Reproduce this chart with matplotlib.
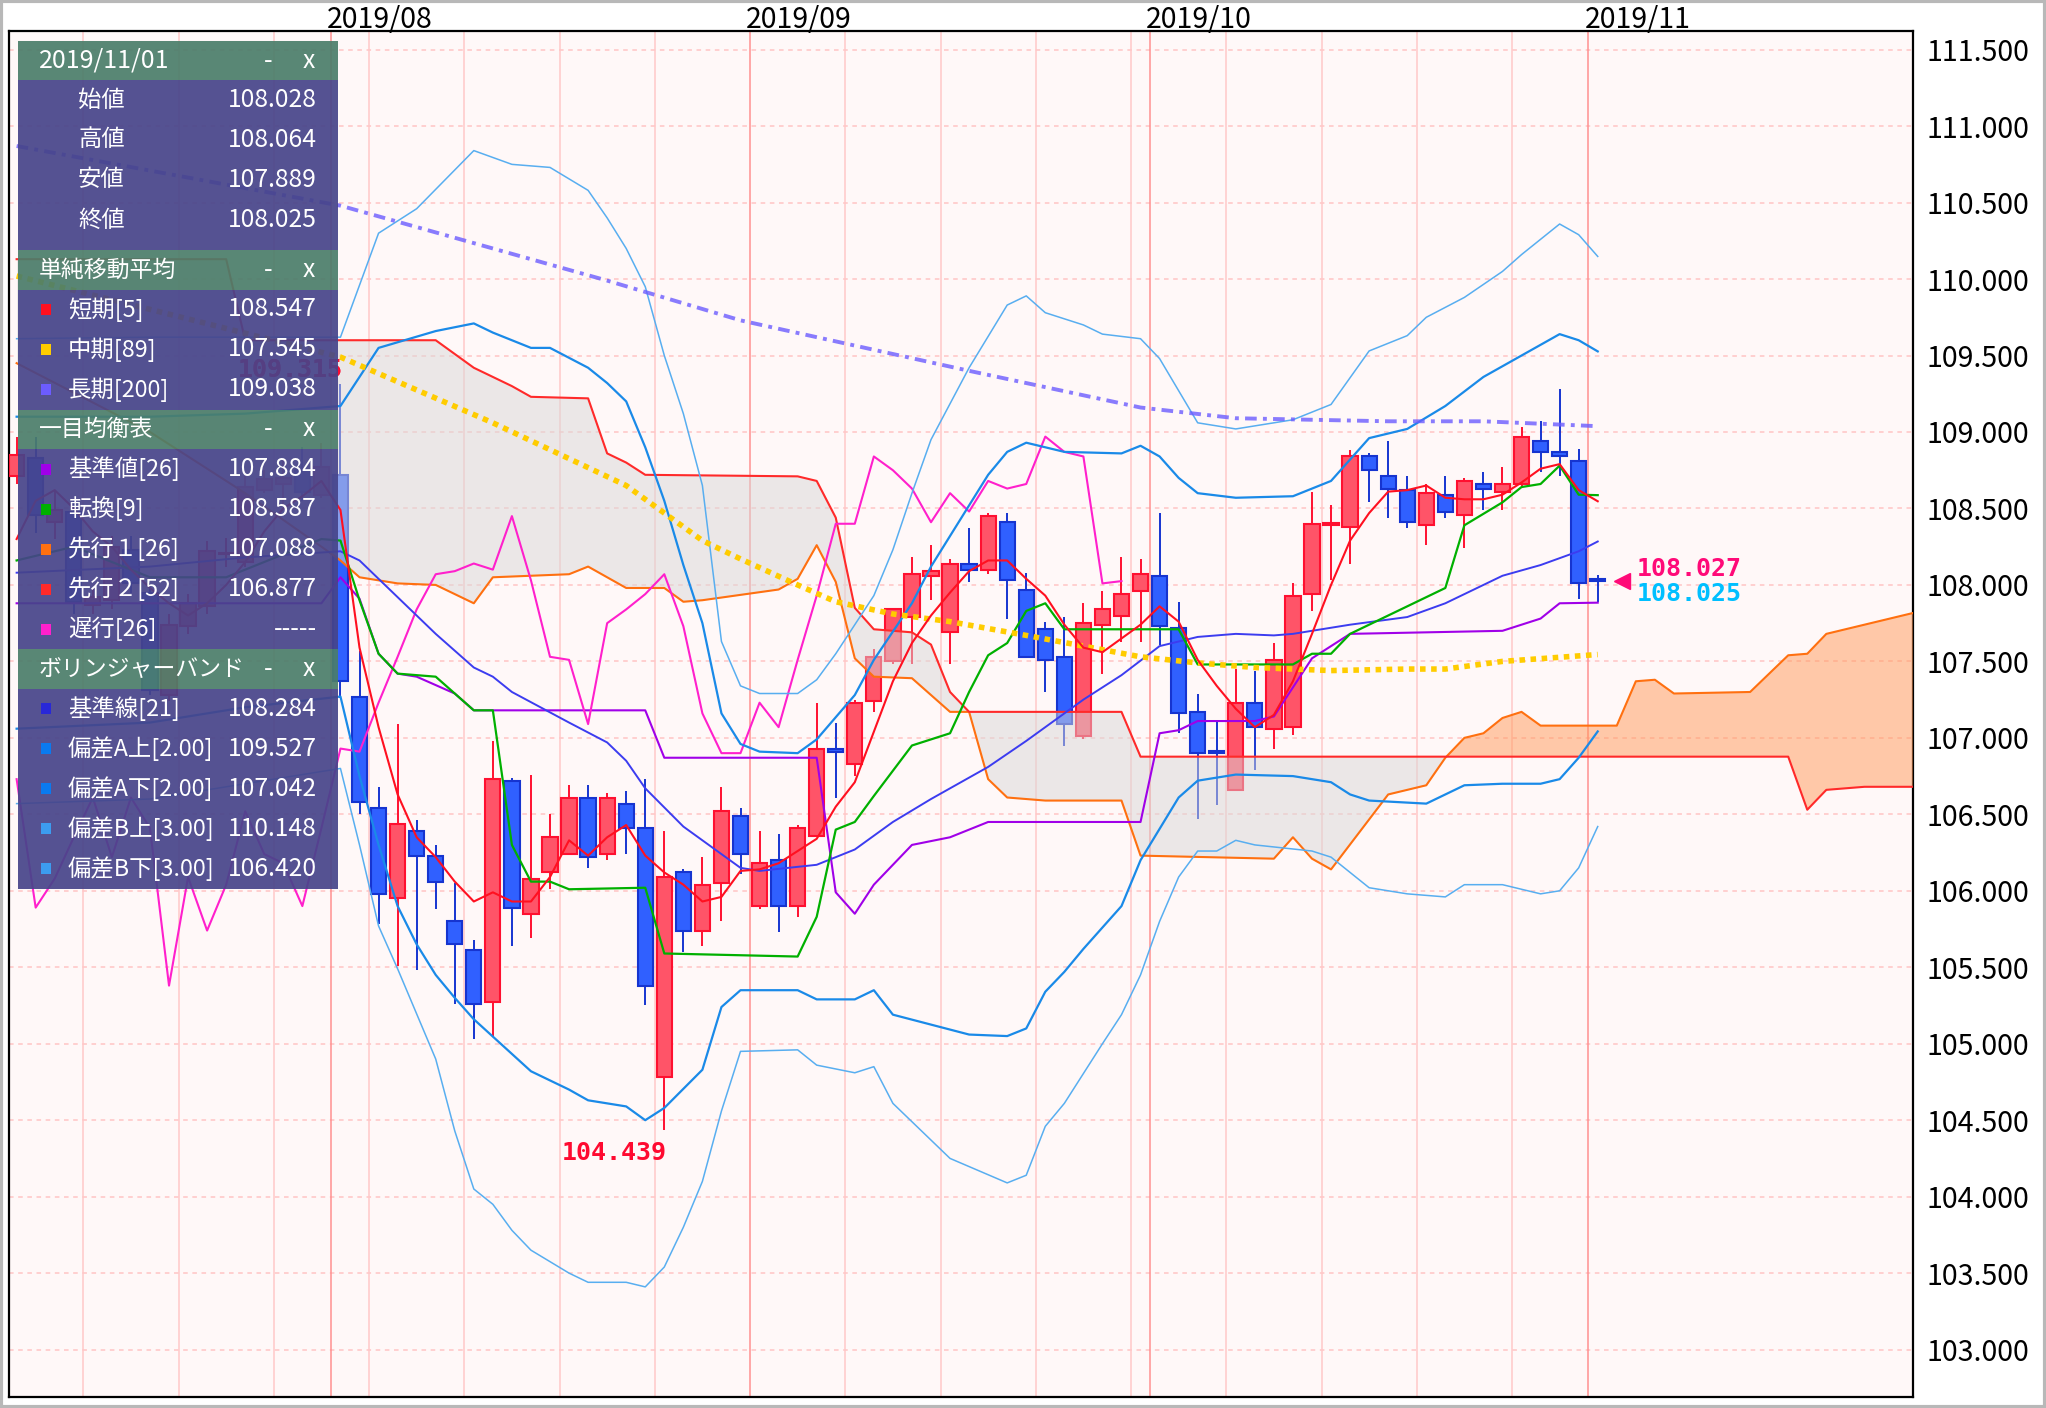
import numpy as np
import pandas as pd
import matplotlib
matplotlib.use("Agg")
import matplotlib.pyplot as plt
from matplotlib.patches import Rectangle

plt.rcParams['font.family'] = ['Noto Sans CJK JP', 'DejaVu Sans']

# ---- data (index 0 = 2019/08/01, one step per business day) ----
dates = pd.bdate_range('2019-07-09', '2019-11-01')
idx = np.arange(len(dates)) - 17

opens = [108.71, 108.83, 108.41, 108.48, 107.87, 107.90, 108.23, 107.95, 107.28, 107.73, 107.86, 108.20, 108.15, 108.62, 108.66, 108.75, 108.59,
         108.72, 107.27, 106.54, 105.95, 106.39, 106.23, 105.80, 105.61, 105.27, 106.72, 105.85, 106.12, 106.24, 106.61, 106.24, 106.57, 106.41,
         104.78, 106.12, 105.74, 106.05, 106.49, 105.90, 106.20, 105.90, 106.36, 106.93, 106.83, 107.24, 107.50, 107.79, 108.06, 107.69, 108.14,
         108.10, 108.41, 107.97, 107.71, 107.53, 107.01, 107.74, 107.80, 107.96, 108.06, 107.72, 107.17, 106.91, 106.66, 107.23, 107.06, 107.07,
         107.94, 108.39, 108.38, 108.84, 108.71, 108.62, 108.39, 108.59, 108.46, 108.66, 108.61, 108.66, 108.94, 108.87, 108.81, 108.028]
highs = [108.97, 108.97, 108.62, 108.56, 107.98, 108.32, 108.32, 108.00, 107.81, 107.94, 108.29, 108.31, 108.71, 108.75, 108.82, 108.90, 108.93,
         109.315, 107.57, 106.68, 107.09, 106.46, 106.30, 106.05, 105.68, 106.98, 106.74, 106.76, 106.50, 106.69, 106.69, 106.64, 106.65, 106.73,
         106.39, 106.14, 106.22, 106.68, 106.54, 106.39, 106.37, 106.43, 107.23, 107.10, 107.25, 107.58, 107.85, 108.18, 108.26, 108.17, 108.37,
         108.47, 108.47, 108.08, 107.76, 107.79, 107.88, 107.96, 108.18, 108.17, 108.47, 107.89, 107.29, 107.12, 107.45, 107.44, 107.62, 108.01,
         108.61, 108.52, 108.88, 108.86, 108.94, 108.71, 108.66, 108.71, 108.70, 108.74, 108.77, 109.03, 109.07, 109.284, 108.89, 108.064]
lows = [108.66, 108.34, 108.30, 107.81, 107.81, 107.84, 107.95, 107.28, 107.24, 107.68, 107.81, 108.12, 108.12, 108.60, 108.52, 108.55, 108.57,
        107.26, 106.50, 105.78, 105.51, 105.48, 105.88, 105.26, 105.03, 105.05, 105.64, 105.69, 106.01, 106.24, 106.15, 106.20, 106.24, 105.25,
        104.439, 105.60, 105.64, 105.80, 106.11, 105.88, 105.73, 105.83, 106.36, 106.61, 106.75, 107.17, 107.48, 107.48, 107.90, 107.48, 108.02,
        108.07, 107.78, 107.53, 107.30, 106.95, 106.99, 107.42, 107.63, 107.63, 107.61, 107.03, 106.47, 106.56, 106.66, 106.79, 106.93, 107.02,
        107.83, 108.03, 108.14, 108.54, 108.44, 108.37, 108.26, 108.44, 108.24, 108.49, 108.49, 108.64, 108.74, 108.71, 107.91, 107.889]
closes = [108.85, 108.46, 108.49, 107.89, 107.92, 108.25, 108.01, 107.31, 107.74, 107.88, 108.22, 108.21, 108.64, 108.69, 108.70, 108.61, 108.77,
          107.37, 106.58, 105.98, 106.44, 106.23, 106.06, 105.65, 105.26, 106.73, 105.89, 106.08, 106.35, 106.61, 106.22, 106.61, 106.41, 105.38,
          106.09, 105.74, 106.04, 106.52, 106.24, 106.18, 105.90, 106.41, 106.93, 106.91, 107.23, 107.53, 107.84, 108.07, 108.09, 108.14, 108.10,
          108.45, 108.03, 107.53, 107.51, 107.09, 107.75, 107.84, 107.94, 108.07, 107.73, 107.16, 106.90, 106.90, 107.23, 107.07, 107.51, 107.93,
          108.40, 108.40, 108.84, 108.75, 108.63, 108.41, 108.60, 108.48, 108.68, 108.63, 108.66, 108.97, 108.87, 108.84, 108.01, 108.025]

sma5 = [108.30, 108.55, 108.62, 108.50, 108.35, 108.25, 108.10, 107.98, 107.88, 107.80, 107.88, 108.00, 108.15, 108.35, 108.50, 108.58, 108.68,
        108.49, 107.59, 107.07, 106.63, 106.35, 106.22, 106.06, 105.93, 105.99, 105.93, 105.93, 106.09, 106.33, 106.23, 106.35, 106.43, 106.23,
        106.12, 106.04, 105.93, 105.96, 106.13, 106.14, 106.18, 106.26, 106.34, 106.55, 106.71, 107.04, 107.37, 107.62, 107.80, 107.95, 108.09,
        108.16, 108.16, 108.04, 107.93, 107.74, 107.59, 107.56, 107.65, 107.74, 107.86, 107.76, 107.51, 107.34, 107.19, 107.07, 107.15, 107.37,
        107.68, 108.00, 108.29, 108.47, 108.61, 108.62, 108.65, 108.57, 108.56, 108.56, 108.59, 108.67, 108.76, 108.79, 108.62, 108.547]

sma89_x = [-17, 0, 8, 15, 19, 21, 24, 26, 29, 32, 36, 39, 42, 45, 48, 52, 56, 58, 61, 66]
sma89_y = [110.02, 109.49, 109.06, 108.65, 108.29, 108.17, 108.00, 107.89, 107.81, 107.76, 107.67, 107.60, 107.53, 107.49, 107.46, 107.44,
           107.45, 107.45, 107.50, 107.545]
sma200_x = [-17, 0, 14, 21, 33, 42, 47, 55, 60, 66]
sma200_y = [110.87, 110.48, 109.99, 109.73, 109.40, 109.16, 109.09, 109.07, 109.07, 109.038]

bb_mid_x = [-17, -10, -5, 0, 1, 3, 5, 7, 8, 9, 12, 14, 15, 16, 18, 21, 22, 25, 27, 29, 31, 34, 36, 39, 41, 43, 45, 47, 49, 50, 53, 56, 58, 61, 63, 65, 66]
bb_mid_y = [108.08, 108.12, 108.18, 108.22, 108.16, 107.92, 107.68, 107.46, 107.40, 107.30, 107.10, 106.97, 106.85, 106.67, 106.42, 106.15,
            106.13, 106.17, 106.27, 106.45, 106.60, 106.81, 106.98, 107.25, 107.41, 107.60, 107.66, 107.68, 107.67, 107.68, 107.74, 107.79,
            107.88, 108.06, 108.13, 108.22, 108.284]
bb_up2_x = [-17, -10, -5, 0, 2, 5, 7, 8, 10, 11, 13, 14, 15, 16, 17, 18, 19, 20, 21, 22, 24, 25, 27, 28, 30, 31, 32, 34, 35, 36, 38, 41, 42,
            43, 44, 45, 47, 50, 52, 54, 56, 58, 60, 62, 64, 65, 66]
bb_up2_y = [109.10, 109.10, 109.12, 109.17, 109.55, 109.66, 109.71, 109.65, 109.55, 109.55, 109.42, 109.32, 109.20, 108.90, 108.55, 108.13,
            107.75, 107.16, 106.96, 106.91, 106.90, 106.99, 107.28, 107.51, 107.88, 108.12, 108.32, 108.72, 108.87, 108.93, 108.87, 108.86,
            108.91, 108.84, 108.70, 108.60, 108.57, 108.58, 108.68, 108.96, 109.02, 109.17, 109.36, 109.50, 109.64, 109.60, 109.527]
bb_up3_x = [-17, -10, -5, 0, 2, 4, 7, 9, 11, 13, 14, 15, 16, 17, 18, 19, 20, 21, 22, 24, 25, 26, 28, 29, 30, 31, 33, 35, 36, 37, 39, 40, 42,
            43, 45, 47, 50, 52, 54, 56, 57, 59, 61, 62, 64, 65, 66]
bb_up3_y = [109.61, 109.62, 109.62, 109.62, 110.30, 110.46, 110.84, 110.75, 110.73, 110.58, 110.40, 110.20, 109.95, 109.50, 109.12, 108.65,
            107.63, 107.34, 107.29, 107.29, 107.38, 107.55, 107.93, 108.23, 108.60, 108.95, 109.42, 109.83, 109.89, 109.78, 109.70, 109.64,
            109.61, 109.48, 109.06, 109.02, 109.08, 109.18, 109.53, 109.63, 109.75, 109.88, 110.05, 110.16, 110.36, 110.29, 110.148]
bb_lo2_x = [-17, -10, -5, 0, 1, 2, 3, 4, 5, 6, 7, 10, 12, 13, 15, 16, 17, 19, 20, 21, 24, 25, 27, 28, 29, 33, 35, 36, 37, 38, 39, 41, 42, 44,
            45, 47, 50, 52, 53, 54, 57, 59, 61, 63, 64, 65, 66]
bb_lo2_y = [107.06, 107.10, 107.20, 107.27, 106.75, 106.30, 105.90, 105.65, 105.45, 105.30, 105.16, 104.82, 104.70, 104.63, 104.59, 104.50,
            104.58, 104.83, 105.24, 105.35, 105.35, 105.29, 105.29, 105.35, 105.19, 105.06, 105.05, 105.10, 105.34, 105.47, 105.62, 105.90,
            106.20, 106.61, 106.72, 106.76, 106.75, 106.71, 106.63, 106.59, 106.57, 106.69, 106.70, 106.70, 106.73, 106.87, 107.042]
bb_lo3_x = [-17, -10, -5, 0, 1, 2, 3, 5, 6, 7, 8, 9, 10, 12, 13, 15, 16, 17, 18, 19, 20, 21, 24, 25, 27, 28, 29, 32, 35, 36, 37, 38, 40, 41,
            42, 43, 44, 45, 46, 47, 48, 51, 52, 54, 56, 58, 59, 61, 63, 64, 65, 66]
bb_lo3_y = [106.57, 106.60, 106.70, 106.80, 106.30, 105.77, 105.49, 104.90, 104.43, 104.05, 103.95, 103.78, 103.65, 103.50, 103.44, 103.44,
            103.41, 103.54, 103.80, 104.10, 104.56, 104.95, 104.96, 104.86, 104.81, 104.85, 104.61, 104.25, 104.09, 104.14, 104.46, 104.61,
            105.00, 105.19, 105.45, 105.80, 106.09, 106.26, 106.26, 106.33, 106.30, 106.26, 106.22, 106.02, 105.98, 105.96, 106.04, 106.04,
            105.98, 106.00, 106.15, 106.42]

kijun_x = [-17, -1, 0, 1, 2, 3, 4, 6, 7, 16, 17, 25, 26, 27, 28, 30, 32, 34, 42, 43, 44, 45, 48, 49, 51, 53, 61, 63, 64, 66]
kijun_y = [107.88, 107.88, 108.05, 107.91, 107.55, 107.42, 107.40, 107.29, 107.18, 107.18, 106.87, 106.87, 105.99, 105.85, 106.04, 106.30,
           106.35, 106.45, 106.45, 107.03, 107.05, 107.11, 107.11, 107.14, 107.52, 107.68, 107.70, 107.78, 107.88, 107.884]
tenkan_x = [-17, -14, -10, -6, -3, -1, 0, 1, 2, 3, 5, 7, 8, 9, 10, 11, 12, 16, 17, 24, 25, 26, 27, 28, 30, 32, 33, 34, 35, 36, 37, 38, 44,
            45, 50, 51, 52, 53, 58, 59, 61, 62, 63, 64, 65, 66]
tenkan_y = [108.16, 108.25, 108.05, 108.05, 108.20, 108.30, 108.29, 107.90, 107.55, 107.42, 107.40, 107.18, 107.18, 106.30, 106.06, 106.06,
            106.01, 106.02, 105.59, 105.57, 105.83, 106.40, 106.45, 106.62, 106.95, 107.03, 107.30, 107.54, 107.62, 107.83, 107.88, 107.71,
            107.71, 107.48, 107.48, 107.55, 107.55, 107.68, 107.98, 108.39, 108.54, 108.64, 108.66, 108.78, 108.59, 108.587]
span_a_x = [-17, -10, -5, -1, 0, 1, 3, 5, 7, 8, 10, 12, 13, 15, 17, 18, 19, 23, 24, 25, 26, 27, 28, 30, 32, 33, 34, 35, 37, 41, 42, 49, 50,
            51, 52, 55, 57, 58, 59, 60, 61, 62, 63, 67, 68, 69, 70, 74, 76, 77, 78, 80, 83]
span_a_y = [109.45, 109.00, 108.60, 108.25, 108.16, 108.05, 108.01, 108.00, 107.88, 108.05, 108.06, 108.07, 108.12, 107.98, 107.98, 107.89,
            107.90, 107.97, 108.04, 108.26, 108.02, 107.52, 107.40, 107.39, 107.17, 107.17, 106.73, 106.61, 106.59, 106.59, 106.23, 106.21,
            106.35, 106.21, 106.14, 106.63, 106.69, 106.87, 107.00, 107.03, 107.13, 107.17, 107.08, 107.08, 107.37, 107.38, 107.29, 107.30,
            107.54, 107.55, 107.68, 107.74, 107.83]
span_b_x = [-17, -6, -5, 5, 7, 9, 10, 13, 14, 15, 16, 24, 25, 26, 27, 28, 30, 31, 32, 33, 41, 42, 76, 77, 78, 80, 83]
span_b_y = [110.13, 110.13, 109.60, 109.60, 109.42, 109.30, 109.23, 109.22, 108.86, 108.80, 108.72, 108.71, 108.68, 108.44, 107.85, 107.71,
            107.69, 107.61, 107.30, 107.17, 107.17, 106.877, 106.877, 106.53, 106.66, 106.68, 106.68]
chikou_shift = 25

# legend panel contents
ohlc_labels = ['始値', '高値', '安値', '終値']
ohlc_values = ['108.028', '108.064', '107.889', '108.025']
sma_labels = ['短期[5]', '中期[89]', '長期[200]']
sma_values = ['108.547', '107.545', '109.038']
ichi_labels = ['基準値[26]', '転換[9]', '先行１[26]', '先行２[52]', '遅行[26]']
ichi_values = ['107.884', '108.587', '107.088', '106.877', '-----']
bb_labels = ['基準線[21]', '偏差A上[2.00]', '偏差A下[2.00]', '偏差B上[3.00]', '偏差B下[3.00]']
bb_values = ['108.284', '109.527', '107.042', '110.148', '106.420']

# ---- colours ----
C_UP, C_UP_EDGE = '#ff5468', '#ff1030'
C_DN, C_DN_EDGE = '#3060ff', '#1634d0'
C_SMA5, C_SMA89, C_SMA200 = '#ff1020', '#ffcc00', '#6c5cff'
C_MID, C_BB2, C_BB3 = '#3c3cf0', '#1a8ae8', '#58aef0'
C_KIJUN, C_TENKAN, C_SPA, C_SPB, C_CHIKOU = '#a000e8', '#00b000', '#ff7010', '#ff2a2a', '#ff20cc'

W, H = 2046, 1408
fig = plt.figure(figsize=(W / 100, H / 100), dpi=100)
ax = fig.add_axes([9 / W, 1 - 1397 / H, (1913 - 9) / W, (1397 - 30.7) / H])
ax.set_facecolor('#fff8f8')
ax.set_xlim(-17.4, 82.55)
ax.set_ylim(102.69, 111.624)

# grid
for v in np.arange(103, 111.51, 0.5):
    ax.axhline(v, color='#ffc4c4', lw=1.1, ls=(0, (3, 3)), zorder=1)
prev = None
for k, d in enumerate(dates):
    i = idx[k]
    if prev is not None and d.month != prev.month:
        ax.axvline(i - 0.5, color='#ff9090', lw=1.1, zorder=1)
        ax.annotate(d.strftime('%Y/%m'), xy=(i - 0.7, 1), xycoords=('data', 'axes fraction'),
                    xytext=(0, 2), textcoords='offset points', ha='left', va='baseline', fontsize=20.5)
    elif d.weekday() == 0:
        ax.axvline(i - 0.5, color='#ffc8c8', lw=1.1, zorder=1)
    prev = d

# candles
o, h, l, c = map(np.array, (opens, highs, lows, closes))
up = c >= o
for mask, fc, ec in ((up, C_UP, C_UP_EDGE), (~up, C_DN, C_DN_EDGE)):
    ax.vlines(idx[mask], l[mask], h[mask], color=ec, lw=1.4, zorder=3)
    body = np.maximum(np.abs(c - o)[mask], 0.012)
    ax.bar(idx[mask], body, bottom=np.minimum(o, c)[mask], width=0.8, color=fc, edgecolor=ec, linewidth=1.5, zorder=4)

# ichimoku cloud
grid = np.arange(-17, 84)
sa = np.interp(grid, span_a_x, span_a_y)
sb = np.interp(grid, span_b_x, span_b_y)
ax.fill_between(grid, sa, sb, where=sb >= sa, interpolate=True, color='#d8d8d8', alpha=0.5, lw=0, zorder=5)
ax.fill_between(grid, sa, sb, where=sa >= sb, interpolate=True, color='#ff9a5a', alpha=0.5, lw=0, zorder=5)

# indicator lines
ax.plot(span_a_x, span_a_y, color=C_SPA, lw=1.5, zorder=6)
ax.plot(span_b_x, span_b_y, color=C_SPB, lw=1.5, zorder=6)
ax.plot(kijun_x, kijun_y, color=C_KIJUN, lw=1.5, zorder=6)
ax.plot(idx[chikou_shift:] - chikou_shift, closes[chikou_shift:], color=C_CHIKOU, lw=1.5, zorder=6)
ax.plot(bb_up3_x, bb_up3_y, color=C_BB3, lw=1.1, zorder=6)
ax.plot(bb_lo3_x, bb_lo3_y, color=C_BB3, lw=1.1, zorder=6)
ax.plot(bb_up2_x, bb_up2_y, color=C_BB2, lw=1.6, zorder=6)
ax.plot(bb_lo2_x, bb_lo2_y, color=C_BB2, lw=1.6, zorder=6)
ax.plot(bb_mid_x, bb_mid_y, color=C_MID, lw=1.4, zorder=6)
ax.plot(tenkan_x, tenkan_y, color=C_TENKAN, lw=1.6, zorder=7)
ax.plot(sma89_x, sma89_y, color=C_SMA89, lw=4, ls=(0, (1, 1)), zorder=7)
ax.plot(sma200_x, sma200_y, color=C_SMA200, lw=2.8, ls=(0, (3, 1.6, 1, 1.6)), alpha=0.8, zorder=7)
ax.plot(idx, sma5, color=C_SMA5, lw=1.5, zorder=8)

# high / low labels
mono = dict(family='DejaVu Sans Mono', fontweight='bold', fontsize=18)
hi_k = int(np.argmax(h[17:])) + 17
ax.annotate(f'{h[hi_k]:.3f}', (idx[hi_k], h[hi_k]), xytext=(2, 1), textcoords='offset points',
            ha='right', va='bottom', color='#ff0a30', zorder=9, **mono)
first_k = int(np.argmax(h[:18]))
ax.annotate(f'{h[first_k]:.3f}', (idx[first_k], h[first_k]), xytext=(2, 1), textcoords='offset points',
            ha='right', va='bottom', color='#ff0a30', zorder=9, **mono)
lo_k = int(np.argmin(l))
ax.annotate(f'{l[lo_k]:.3f}', (idx[lo_k], l[lo_k]), xytext=(2, -8), textcoords='offset points',
            ha='right', va='top', color='#ff0a30', zorder=9, **mono)

# last price tags
ax.plot([67.27], [108.027], marker='<', color='#ff0a78', ms=11, zorder=9)
ax.text(68.05, 108.104, '108.027', color='#ff0a78', ha='left', va='center', zorder=9, **mono)
ax.text(68.05, 107.94, '108.025', color='#00bfff', ha='left', va='center', zorder=9, **mono)

# axes styling
ax.yaxis.tick_right()
ax.set_yticks(np.arange(103, 111.51, 0.5))
ax.set_yticklabels([f'{v:.3f}' for v in np.arange(103, 111.51, 0.5)], fontsize=20.5)
ax.tick_params(axis='y', length=0, pad=10)
ax.set_xticks([])
for s in ax.spines.values():
    s.set_color('black')
    s.set_linewidth(1.6)

# ---- overlay legend panel (pixel coordinates) ----
pax = fig.add_axes([0, 0, 1, 1], zorder=10)
pax.set_xlim(0, W)
pax.set_ylim(H, 0)
pax.axis('off')
pax.add_patch(Rectangle((1, 1), W - 2, H - 2, fill=False, edgecolor='#b8b8b8', lw=3))

PX0, PX1 = 18, 338
HEAD_C, BODY_C, ALPHA = '#4b7d6a', '#46448a', 0.92
head_txt = dict(color='white', fontsize=16.5, va='center')
lab_txt = dict(color='white', fontsize=16.8, va='center')
val_txt = dict(color='white', fontsize=17.8, va='center')


def header(y, title, size=16.5):
    pax.add_patch(Rectangle((PX0, y), PX1 - PX0, 39.5, color=HEAD_C, alpha=ALPHA, lw=0))
    pax.text(39, y + 20, title, ha='left', color='white', fontsize=size, va='center')
    pax.text(268, y + 20, '-', ha='center', **val_txt)
    pax.text(309, y + 20, 'x', ha='center', **val_txt)
    return y + 39.5


def body(y, labels, values, colors=None, pad=0):
    hgt = 40 * len(labels) + pad
    pax.add_patch(Rectangle((PX0, y), PX1 - PX0, hgt, color=BODY_C, alpha=ALPHA, lw=0))
    for r, (lab, val) in enumerate(zip(labels, values)):
        yc = y + 20 + 40 * r
        if colors is None:
            pax.text(78, yc, lab, ha='left', **lab_txt)
        else:
            pax.add_patch(Rectangle((41, yc - 5.5), 10, 11, color=colors[r], lw=0))
            pax.text(68, yc, lab, ha='left', **lab_txt)
        pax.text(317, yc, val, ha='right', **val_txt)
    return y + hgt


y = 40.5
y = header(y, dates[-1].strftime('%Y/%m/%d'), size=18)
y = body(y, ohlc_labels, ohlc_values, pad=10)
y = header(y, '単純移動平均')
y = body(y, sma_labels, sma_values, [C_SMA5, C_SMA89, C_SMA200])
y = header(y, '一目均衡表')
y = body(y, ichi_labels, ichi_values, [C_KIJUN, C_TENKAN, C_SPA, C_SPB, C_CHIKOU])
y = header(y, 'ボリンジャーバンド')
y = body(y, bb_labels, bb_values, ['#2828d8', '#0a7af0', '#0a7af0', '#3c9cf0', '#3c9cf0'])

fig.savefig('out.png', dpi=100)
